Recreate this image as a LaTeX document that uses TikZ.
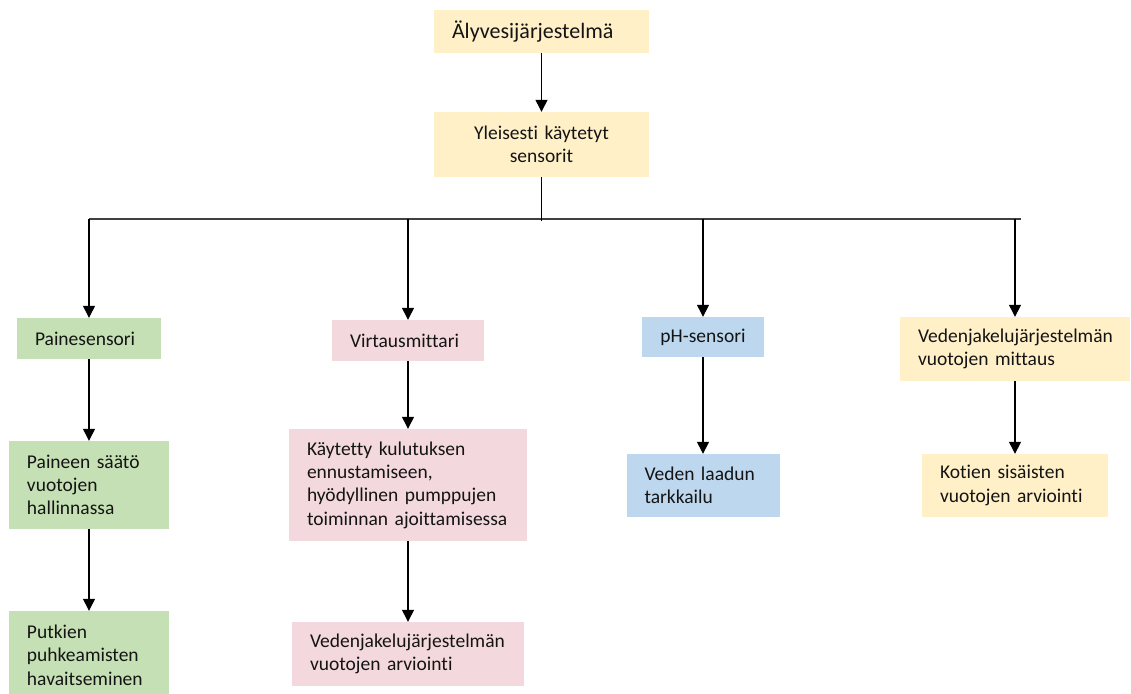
\documentclass[tikz,border=0pt]{standalone}
\usepackage{fontspec}
\setmainfont[Ligatures={NoCommon,NoRare,NoContextual}]{Carlito}
\usetikzlibrary{arrows.meta}

\definecolor{boxyellow}{HTML}{FFF0C8}
\definecolor{boxgreen}{HTML}{C5E0B4}
\definecolor{boxpink}{HTML}{F3D8DD}
\definecolor{boxblue}{HTML}{BDD7EE}
\definecolor{linegray}{HTML}{404040}

\tikzset{
  card/.style={rectangle, draw=none, inner xsep=18pt, inner ysep=0pt,
    align=left, font=\fontsize{19.5}{23.3}\selectfont, text=black!92},
  cardc/.style={card, align=center},
  flow/.style={draw=black, line width=1.3pt,
    -{Triangle[length=12pt,width=12pt]}},
  trunk/.style={draw=linegray, line width=1.5pt},
}

\begin{document}
\begin{tikzpicture}[x=1pt, y=-1pt]
\useasboundingbox (0,0) rectangle (1131,693);
\clip (0,0) rectangle (1131,693);

% top level
\node[card, fill=boxyellow, text width=179pt, minimum height=43pt,
  font=\fontsize{22}{26}\selectfont] (top) at (541.5,31.5) {Älyvesijärjestelmä};
\node[cardc, fill=boxyellow, text width=179pt, minimum height=65pt]
  (gen) at (541.5,144.5) {Yleisesti käytetyt\\sensorit};

% sensor row
\node[card, fill=boxgreen, text width=108pt, minimum height=41pt]
  (pain) at (89,338.5) {Painesensori};
\node[card, fill=boxpink, text width=116pt, minimum height=41pt]
  (virt) at (408,340.5) {Virtausmittari};
\node[cardc, fill=boxblue, text width=86pt, minimum height=40pt]
  (ph) at (703,337) {pH-sensori};
\node[card, fill=boxyellow, text width=194pt, minimum height=64pt]
  (vmit) at (1015,349) {Vedenjakelujärjestelmän\\vuotojen mittaus};

% uses
\node[card, fill=boxgreen, text width=124pt, minimum height=88pt]
  (paine) at (89,485) {Paineen säätö\\vuotojen\\hallinnassa};
\node[card, fill=boxpink, text width=202pt, minimum height=112pt]
  (kayt) at (408,485) {Käytetty kulutuksen\\ennustamiseen,\\hyödyllinen pumppujen\\toiminnan ajoittamisessa};
\node[card, fill=boxblue, text width=117pt, minimum height=63pt]
  (veden) at (703,485.5) {Veden laadun\\tarkkailu};
\node[card, fill=boxyellow, text width=150pt, minimum height=63pt]
  (kotien) at (1015,485.5) {Kotien sisäisten\\vuotojen arviointi};

% third level
\node[card, fill=boxgreen, text width=124pt, minimum height=88pt]
  (putk) at (89,655) {Putkien\\puhkeamisten\\havaitseminen};
\node[card, fill=boxpink, text width=196pt, minimum height=64pt]
  (varv) at (408,654) {Vedenjakelujärjestelmän\\vuotojen arviointi};

% distribution line
\coordinate (jl) at (89,219);
\coordinate (jr) at (1021,219);
\coordinate (jd) at (542,221);
\draw[trunk] (jl) -- (jr);
\draw[draw=black, line width=1.3pt] (gen.south) -- (gen.south |- jd);

% connectors
\draw[flow] (top) -- (gen);
\draw[flow] (jl) -- (pain.north);
\draw[flow] (virt.north |- jl) -- (virt.north);
\draw[flow] (ph.north |- jl) -- (ph.north);
\draw[flow] (vmit.north |- jl) -- (vmit.north);
\draw[flow] (pain) -- (paine);
\draw[flow] (paine) -- (putk);
\draw[flow] (virt) -- (kayt);
\draw[flow] (kayt) -- (varv);
\draw[flow] (ph) -- (veden);
\draw[flow] (vmit) -- (kotien);
\end{tikzpicture}
\end{document}
